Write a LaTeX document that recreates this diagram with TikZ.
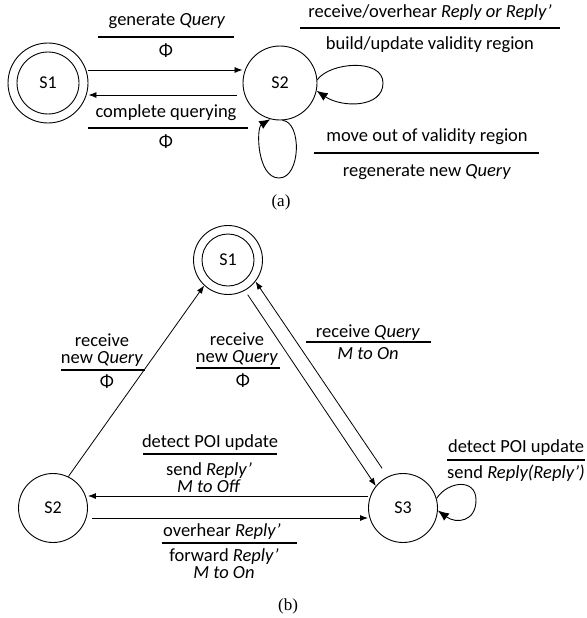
\documentclass[tikz,border=0pt]{standalone}
\usepackage{fontspec}
\setmainfont{Carlito}
\newfontfamily\capfont{Liberation Serif}
\usetikzlibrary{arrows.meta}
\begin{document}
\begin{tikzpicture}[x=1pt,y=-1pt,
  state/.style={circle, draw, line width=0.9pt, inner sep=0pt, minimum size=69pt, font=\fontsize{18}{18}\selectfont},
  lbl/.style={inner sep=0pt, align=center, font=\fontsize{18.5}{15.5}\selectfont},
  lbltwo/.style={lbl, font=\fontsize{18.5}{16.5}\selectfont},
  captxt/.style={inner sep=0pt, font=\capfont\fontsize{17}{17}\selectfont},
  bar/.style={line width=1.4pt},
  arr/.style={-{Latex[length=8pt,width=6pt]}, line width=0.8pt},
  looparr/.style={-{Latex[length=11pt,width=9pt]}, line width=0.9pt}]
\useasboundingbox (0,0) rectangle (586,618);

% ---------------- (a) ----------------
\node[state, minimum size=80pt] (S1a) at (48,83) {};
\node[state, minimum size=62pt] (S1ai) at (48,83) {S1};
\node[state, minimum size=74pt] (S2a) at (280,83) {S2};

\draw[arr] ([yshift=13pt]S1a.east) -- ([yshift=13pt]S2a.west);
\draw[arr, shorten <=6pt] ([yshift=-12pt]S2a.west) -- ([yshift=-12pt]S1a.east);
\draw[looparr] (S2a.5) .. controls (330,62) and (383,58) .. (383,83)
                       .. controls (383,108) and (342,108) .. (S2a.-12);
\draw[looparr] (S2a.-86) .. controls (302,122) and (301,178) .. (279,178)
                        .. controls (257,178) and (256,128) .. (S2a.-105);

\node[lbl] (ga) at (167,21) {generate \textit{Query}};
\draw[bar] (98,37) -- (234,37);
\node[lbl] (pa1) at (166,51) {Φ};
\node[lbl] (cq) at (166,113) {complete querying};
\draw[bar] (88,128) -- (248,128);
\node[lbl] (pa2) at (166,142) {Φ};
\node[lbl] (ro) at (430,13) {receive/overhear \textit{Reply or Reply’}};
\draw[bar] (300,28) -- (560,28);
\node[lbl] (bu) at (430,45) {build/update validity region};
\node[lbl] (mo) at (427,137) {move out of validity region};
\draw[bar] (314,153) -- (539,153);
\node[lbl] (rg) at (427,172) {regenerate new \textit{Query}};
\node[captxt] (capa) at (281,202) {(a)};

% ---------------- (b) ----------------
\node[state, minimum size=69pt] (S1b) at (228,260) {};
\node[state, minimum size=52pt] (S1bi) at (228,260) {S1};
\node[state] (S2b) at (53,508) {S2};
\node[state] (S3b) at (403,508) {S3};

\draw[arr] (S2b.64) -- (S1b.-133);
\draw[arr, shorten <=5pt] (S1b.-61) -- (S3b.141);
\draw[arr, shorten <=10pt] (S3b.116) -- (S1b.-38);
\draw[arr] ([yshift=12pt]S3b.west) -- ([yshift=12pt]S2b.east);
\draw[arr, shorten <=4pt] ([yshift=-10pt]S2b.east) -- ([yshift=-10pt]S3b.west);
\draw[looparr] (S3b.16) .. controls (448,481) and (476,478) .. (476,500)
                        .. controls (476,522) and (456,524) .. (S3b.-4);

\node[lbltwo] (lrq) at (102,350) {receive\\new \textit{Query}};
\draw[bar] (61,370) -- (145,370);
\node[lbl] (lp) at (107,382) {Φ};

\node[lbltwo] (mrq) at (237,349) {receive\\new \textit{Query}};
\draw[bar] (196,368) -- (280,368);
\node[lbl] (mp) at (243,381) {Φ};

\node[lbl] (rq) at (368,333) {receive \textit{Query}};
\draw[bar] (306,342) -- (431,342);
\node[lbl] (rm) at (368,354) {\textit{M to On}};

\node[lbl] (dp) at (210,443) {detect POI update};
\draw[bar] (143,454) -- (277,454);
\node[lbl] (srm) at (209,477.5) {send \textit{Reply’}\\\textit{M to Off}};

\node[lbl] (oh) at (222,532) {overhear \textit{Reply’}};
\draw[bar] (162,543) -- (297,543);
\node[lbl, font=\fontsize{18.5}{17}\selectfont] (fwm) at (224,563.5) {forward \textit{Reply’}\\\textit{M to On}};

\node[lbl] (dp2) at (516,448) {detect POI update};
\draw[bar] (447,460) -- (585,460);
\node[lbl] (sr2) at (516,473) {send \textit{Reply(Reply’)}};

\node[captxt] (capb) at (288,606) {(b)};
\end{tikzpicture}
\end{document}
